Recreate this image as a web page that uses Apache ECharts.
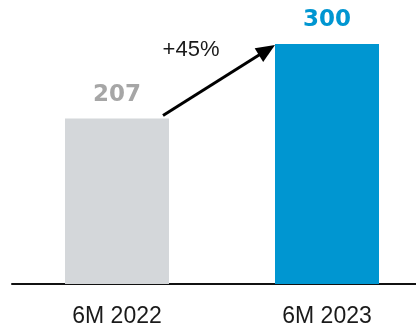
<!DOCTYPE html>
<html>
<head>
<meta charset="utf-8">
<script src="https://cdn.jsdelivr.net/npm/echarts@6/dist/echarts.min.js"></script>
<style>
  html, body { margin: 0; padding: 0; background: #ffffff; }
  #chart { width: 416px; height: 333px; }
</style>
</head>
<body>
<div id="chart"></div>
<script>
// Half-year totals
const categories = ['6M 2022', '6M 2023'];
const values = [207, 300];
const barColors = ['#d4d7da', '#0096d1'];
const valueLabelColors = ['#a6a6a6', '#0096d1'];

const chart = echarts.init(document.getElementById('chart'), null, { renderer: 'canvas' });

const option = {
  animation: false,
  backgroundColor: '#ffffff',
  grid: {
    left: 12, top: 0, width: 420, height: 284,
    containLabel: false,
    outerBoundsMode: 'none'
  },
  xAxis: {
    type: 'category',
    data: categories,
    axisLine: { show: true, lineStyle: { color: '#111111', width: 2 } },
    axisTick: { show: false },
    axisLabel: {
      margin: 21,
      fontSize: 23,
      fontFamily: 'Liberation Sans, Arial, sans-serif',
      color: '#1a1a1a'
    }
  },
  yAxis: {
    type: 'value',
    min: 0,
    max: 355,
    show: false,
    splitLine: { show: false }
  },
  series: [{
    type: 'bar',
    barWidth: 104,
    data: values.map((v, i) => ({
      value: v,
      itemStyle: { color: barColors[i] },
      label: { color: valueLabelColors[i] }
    })),
    label: {
      show: true,
      position: 'top',
      distance: 12,
      fontSize: 23,
      fontWeight: 'bold',
      fontFamily: 'DejaVu Sans, sans-serif'
    }
  }]
};

chart.setOption(option);

// Growth arrow from the top of the first bar to the top of the second
const halfBar = 52;
const p0 = chart.convertToPixel({ xAxisIndex: 0, yAxisIndex: 0 }, [0, values[0]]);
const p1 = chart.convertToPixel({ xAxisIndex: 0, yAxisIndex: 0 }, [1, values[1]]);
const tail = [p0[0] + halfBar - 6, p0[1] - 3];
const tip = [p1[0] - halfBar, p1[1] + 1];
const dx = tip[0] - tail[0], dy = tip[1] - tail[1];
const len = Math.sqrt(dx * dx + dy * dy);
const ux = dx / len, uy = dy / len;
const headLen = 19, headHalf = 8;
const base = [tip[0] - ux * headLen, tip[1] - uy * headLen];
const growth = Math.round((values[1] / values[0] - 1) * 100);

chart.setOption({
  graphic: [
    {
      type: 'line',
      shape: { x1: tail[0], y1: tail[1], x2: base[0] + ux * 2, y2: base[1] + uy * 2 },
      style: { stroke: '#000000', lineWidth: 3 }
    },
    {
      type: 'polygon',
      shape: {
        points: [
          tip,
          [base[0] - uy * headHalf, base[1] + ux * headHalf],
          [base[0] + uy * headHalf, base[1] - ux * headHalf]
        ]
      },
      style: { fill: '#000000' }
    },
    {
      type: 'text',
      x: (tail[0] + tip[0]) / 2 - 28,
      y: (tail[1] + tip[1]) / 2 - 30,
      style: {
        text: '+' + growth + '%',
        fontSize: 22,
        fontFamily: 'Liberation Sans, Arial, sans-serif',
        fill: '#1a1a1a',
        align: 'center',
        verticalAlign: 'middle'
      }
    }
  ]
});
</script>
</body>
</html>
